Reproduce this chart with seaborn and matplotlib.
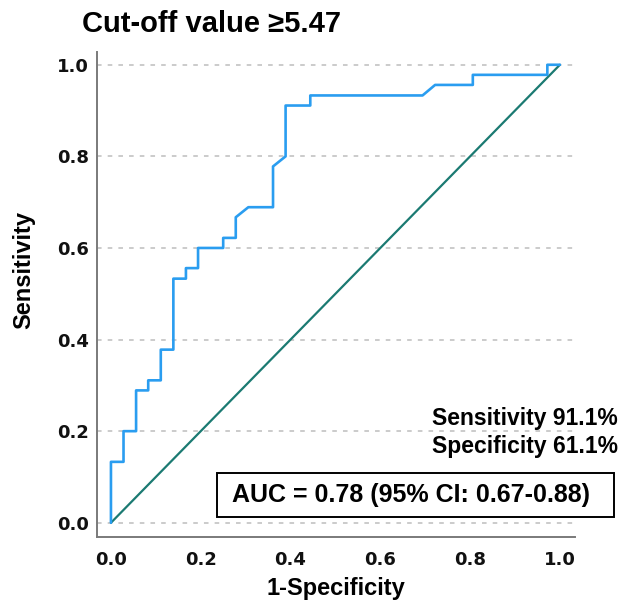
import numpy as np
import pandas as pd
import matplotlib
matplotlib.use("Agg")
import matplotlib.pyplot as plt
from matplotlib.patches import Rectangle
import seaborn as sns

# ROC curve points (45 positives, 36 negatives)
fpr = [0.0, 0.0, 0.028, 0.028, 0.056, 0.056, 0.083, 0.083, 0.111, 0.111,
       0.139, 0.139, 0.167, 0.167, 0.194, 0.194, 0.25, 0.25, 0.278, 0.278,
       0.306, 0.361, 0.361, 0.389, 0.389, 0.444, 0.444, 0.694, 0.722, 0.806,
       0.806, 0.972, 0.972, 1.0]
tpr = [0.0, 0.133, 0.133, 0.2, 0.2, 0.289, 0.289, 0.311, 0.311, 0.378,
       0.378, 0.533, 0.533, 0.556, 0.556, 0.6, 0.6, 0.622, 0.622, 0.667,
       0.689, 0.689, 0.778, 0.8, 0.911, 0.911, 0.933, 0.933, 0.956, 0.956,
       0.978, 0.978, 1.0, 1.0]
ref_x = [0.0, 1.0]
ref_y = [0.0, 1.0]
tick_vals = [0.0, 0.2, 0.4, 0.6, 0.8, 1.0]
tick_labels = ["0.0", "0.2", "0.4", "0.6", "0.8", "1.0"]

title = "Cut-off value \u22655.47"
sens_txt = "Sensitivity 91.1%"
spec_txt = "Specificity 61.1%"
auc_txt = "AUC = 0.78 (95% CI: 0.67-0.88)"

sns.set_style("white")
plt.rcParams['font.family'] = ['Liberation Sans', 'DejaVu Sans']
plt.rcParams['text.color'] = 'black'
plt.rcParams['axes.labelcolor'] = 'black'

roc = pd.DataFrame({"fpr": fpr, "tpr": tpr})
ref = pd.DataFrame({"x": ref_x, "y": ref_y})

fig = plt.figure(figsize=(6.22, 6.04), dpi=100)
ax = fig.add_axes([0.156, 0.111, 0.768, 0.803])

sns.lineplot(data=ref, x="x", y="y", color="#1B7A72", lw=1.6, ax=ax,
             sort=False, estimator=None)
sns.lineplot(data=roc, x="fpr", y="tpr", color="#2A9DF0", lw=1.9, ax=ax,
             sort=False, estimator=None)

ax.set_xlim(-0.031, 1.033)
ax.set_ylim(-0.031, 1.028)
ax.set_xticks(tick_vals)
ax.set_xticklabels(tick_labels)
ax.set_yticks(tick_vals)
ax.set_yticklabels(tick_labels)
for lab in ax.get_xticklabels() + ax.get_yticklabels():
    lab.set_fontfamily("DejaVu Sans")
    lab.set_fontweight("bold")
    lab.set_fontsize(13)
    lab.set_color("#111111")
ax.tick_params(axis="both", length=0)
ax.tick_params(axis="x", pad=10)
ax.tick_params(axis="y", pad=6)

ax.yaxis.grid(True, color="#bdbdbd", linestyle=(0, (3, 4)), lw=1.1)
ax.xaxis.grid(False)
ax.set_axisbelow(True)

for s in ["top", "right"]:
    ax.spines[s].set_visible(False)
for s in ["left", "bottom"]:
    ax.spines[s].set_color("#7a7a7a")
    ax.spines[s].set_linewidth(1.4)

ax.set_xlabel("1-Specificity", fontsize=17, fontweight="bold", labelpad=6)
ax.set_ylabel("Sensitivity", fontsize=17, fontweight="bold")
ax.yaxis.set_label_coords(-0.13, 0.55)

fig.text(82 / 622, 1 - 24 / 604, title, fontsize=21, fontweight="bold",
         ha="left", va="center")

fig.text(618 / 622, 1 - 418 / 604, sens_txt, fontsize=16.5, fontweight="bold",
         ha="right", va="center")
fig.text(618 / 622, 1 - 447 / 604, spec_txt, fontsize=16.5, fontweight="bold",
         ha="right", va="center")

box = Rectangle((217 / 622, 1 - 517 / 604), 397 / 622, 44 / 604,
                transform=fig.transFigure, fill=True, facecolor="white",
                edgecolor="black", lw=1.4, zorder=5)
fig.patches.append(box)
fig.text(411 / 622, 1 - 495 / 604, auc_txt, fontsize=18, fontweight="bold",
         ha="center", va="center", zorder=6)

fig.savefig("out.png", dpi=100)
